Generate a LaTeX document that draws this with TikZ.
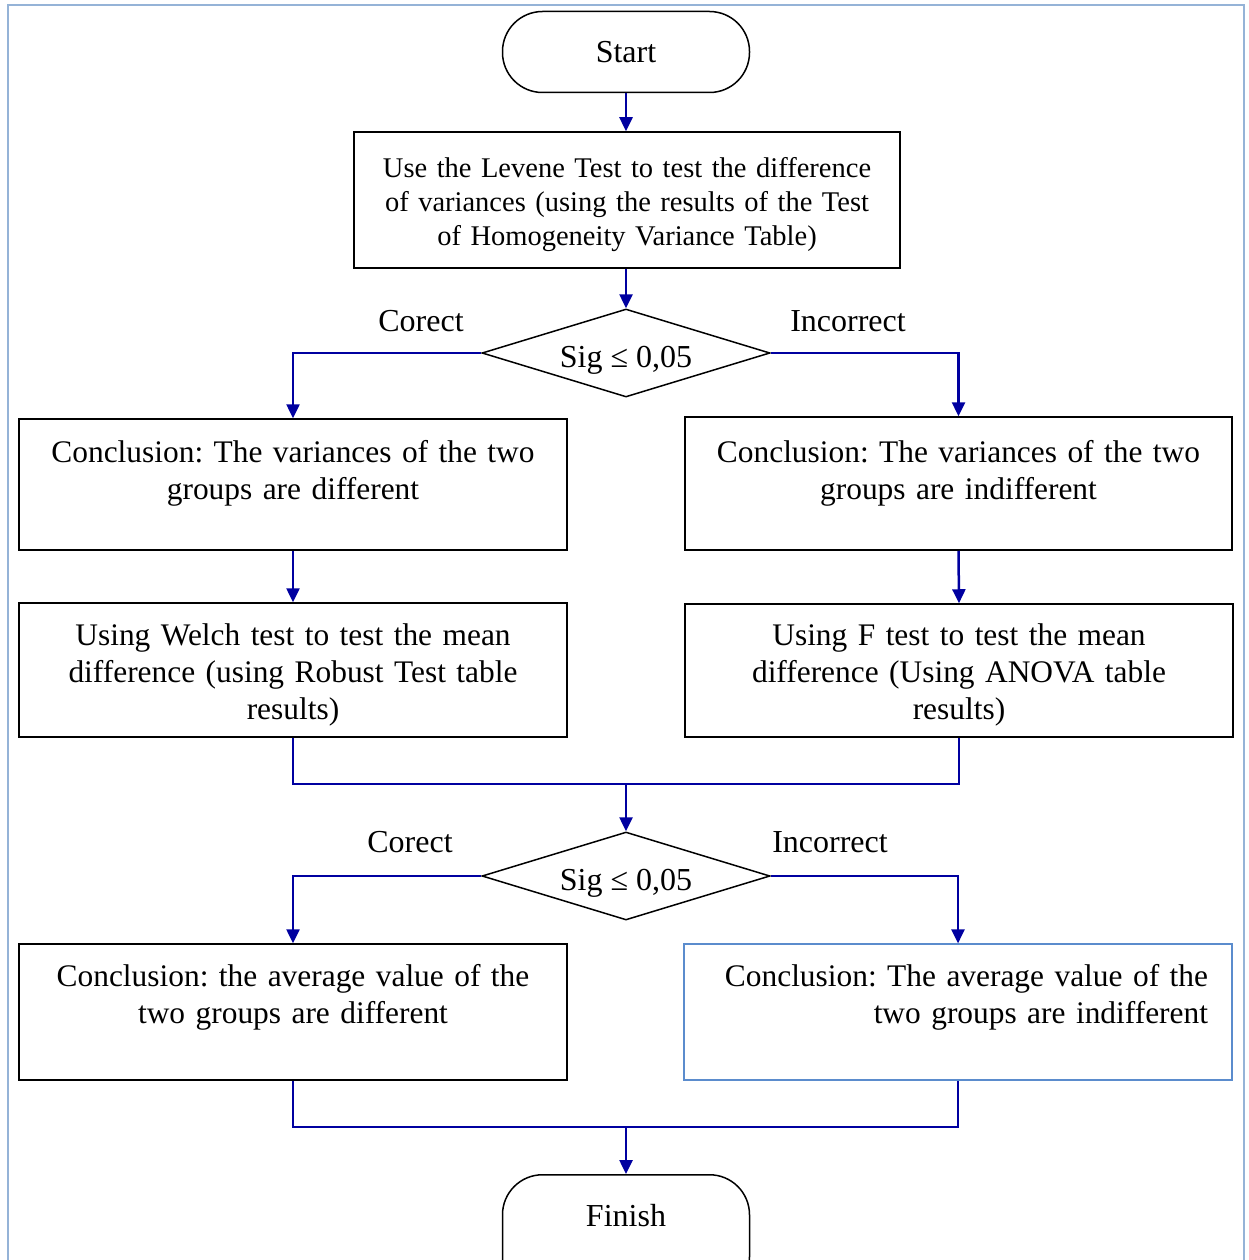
\documentclass[tikz,border=0pt]{standalone}
\usepackage{fontspec}
\setmainfont{Liberation Serif}
\usetikzlibrary{arrows.meta,shapes.geometric}
\definecolor{conncol}{RGB}{0,0,160}
\definecolor{framecol}{RGB}{149,179,215}
\definecolor{bluebox}{RGB}{91,140,205}
\newcommand{\topstrut}[1]{\rule{0pt}{#1}}
\begin{document}
\frenchspacing
\begin{tikzpicture}[x=1pt,y=-1pt,
  base/.style={font=\fontsize{32}{37}\selectfont},
  boxfont/.style={font=\fontsize{31.4}{37}\selectfont},
  box/.style={boxfont, draw=black, line width=1.5pt, rectangle, minimum width=548pt, align=center, text width=500pt, inner sep=0pt},
  term/.style={base, draw=black, line width=1.5pt, rounded corners=40pt, minimum width=247pt},
  dec/.style={base, draw=black, line width=1.5pt, diamond, minimum width=288pt, minimum height=88pt, inner sep=0pt, aspect=3.27, text height=35pt, text depth=7pt},
  conn/.style={draw=conncol, line width=2.5pt},
  arr/.style={conn, -{Triangle[length=14pt,width=13pt]}},
  lab/.style={base, inner sep=0pt}
]
\useasboundingbox (0,0) rectangle (1248,1260);
\clip (0,0) rectangle (1248,1260);
\draw[draw=framecol, line width=2pt] (8,5) rectangle (1244,1300);

\node[term, minimum height=81pt] (start) at (626,52) {Start};
\node[box, font=\fontsize{28.5}{34}\selectfont, minimum width=546pt, minimum height=136pt] (b1) at (627,200) {\topstrut{30pt}Use the Levene Test to test the difference\\ of variances (using the results of the Test\\ of Homogeneity Variance Table)};
\node[dec] (d1) at (626,353) {Sig ≤ 0,05};
\node[box, minimum height=131pt] (l1) at (293,484.5) {\topstrut{29pt}Conclusion: The variances of the two\\ groups are different\\ \mbox{}};
\node[box, minimum width=547pt, minimum height=133pt] (r1) at (958.5,483.5) {\topstrut{31pt}Conclusion: The variances of the two\\ groups are indifferent\\ \mbox{}};
\node[box, minimum height=134pt] (l2) at (293,670) {\topstrut{31pt}Using Welch test to test the mean\\ difference (using Robust Test table\\ results)};
\node[box, minimum height=133pt] (r2) at (959,670.5) {\topstrut{31pt}Using F test to test the mean\\ difference (Using ANOVA table\\ results)};
\coordinate (m1) at (626,784);
\node[dec] (d2) at (626,876) {Sig ≤ 0,05};
\node[box, minimum height=136pt] (l3) at (293,1012) {Conclusion: the average value of the\\ two groups are different\\ \mbox{}};
\node[box, draw=bluebox, line width=1.2pt, align=right, minimum height=136pt] (r3) at (958,1012) {Conclusion: The average value of the\\ two groups are indifferent\\ \mbox{}};
\coordinate (m2) at (626,1127);
\node[term, anchor=north, text height=22pt, text depth=40pt, inner ysep=30pt] (fin) at (626,1174) {Finish};

\node[lab] (c1) at (421,321) {Corect};
\node[lab] (i1) at (848,321) {Incorrect};
\node[lab] (c2) at (410,842) {Corect};
\node[lab] (i2) at (830,842) {Incorrect};

\draw[arr] (start.south) -- (start.south |- b1.north);
\draw[arr] (d1.north |- b1.south) -- (d1.north);
\draw[arr] (d1.west) -| (l1.north);
\draw[arr] (d1.east) -| (r1.north);
\draw[arr] (l1.south) -- (l2.north);
\draw[arr] (r1.south) -- (r2.north);
\draw[conn] (l2.south) |- (m1) -| (r2.south);
\draw[arr] (m1) -- (d2.north);
\draw[arr] (d2.west) -| (l3.north);
\draw[arr] (d2.east) -| (r3.north);
\draw[conn] (l3.south) |- (m2) -| (r3.south);
\draw[arr] (m2) -- (fin.north);
\end{tikzpicture}
\end{document}
